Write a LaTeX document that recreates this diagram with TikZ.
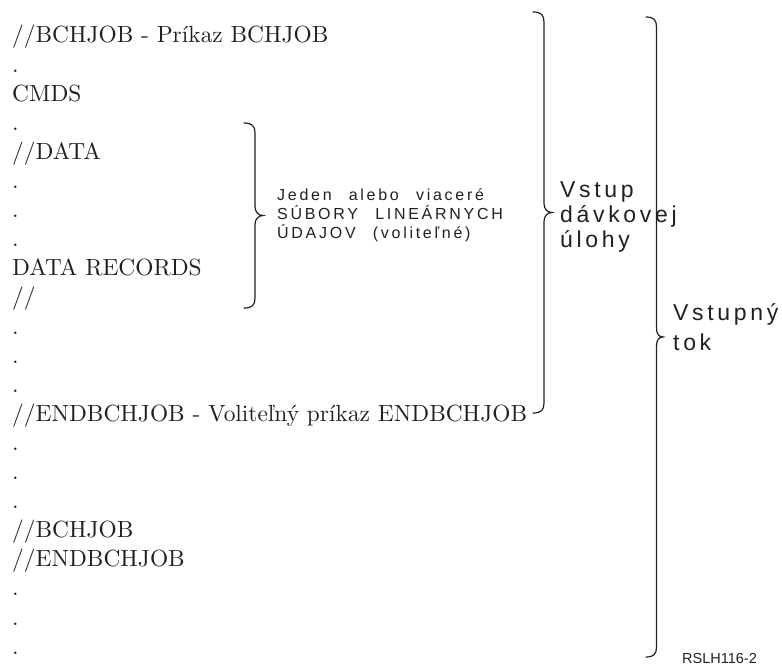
\documentclass[tikz,border=0pt]{standalone}
\usepackage{fontspec}
\newfontfamily\listfont{lmroman10-regular.otf}
\newfontfamily\notefont[LetterSpace=17,WordSpace=2.4]{Liberation Sans}
\newfontfamily\headfont[LetterSpace=16]{Liberation Sans}
\newfontfamily\tagfont{Liberation Sans}
\definecolor{ink}{RGB}{35,31,32}

% right-opening curly brace: x of the ends, top y, bottom y,
% offset of the straight part, offset of the tip
\newcommand{\drawbrace}[5]{%
  \pgfmathsetmacro\bym{(#2+#3)/2}%
  \draw[bracestroke]
    (#1,#2) .. controls ({#1+0.75*#4},#2) and ({#1+#4},{#2+3}) .. ({#1+#4},{#2+10})
    -- ({#1+#4},{\bym-9})
    .. controls ({#1+#4},{\bym-3}) and ({#1+#5-4},\bym) .. ({#1+#5},\bym)
    .. controls ({#1+#5-4},\bym) and ({#1+#4},{\bym+3}) .. ({#1+#4},{\bym+9})
    -- ({#1+#4},{#3-10})
    .. controls ({#1+#4},{#3-3}) and ({#1+0.75*#4},#3) .. (#1,#3);
}

\tikzset{
  listing/.style={anchor=base west, inner sep=0pt, text=ink,
    font=\listfont\fontsize{23.4}{29}\selectfont},
  note/.style={anchor=base west, inner sep=0pt, text=ink,
    font=\notefont\fontsize{16}{19}\selectfont},
  head/.style={anchor=base west, inner sep=0pt, text=ink,
    font=\headfont\fontsize{23}{25}\selectfont},
  tag/.style={anchor=base west, inner sep=0pt, text=ink,
    font=\tagfont\fontsize{14.5}{17}\selectfont},
  bracestroke/.style={draw=ink, line width=1.2pt, line cap=round},
}

\begin{document}
\begin{tikzpicture}[x=1pt,y=-1pt]
  \useasboundingbox (0,0) rectangle (782,668);

  % the job stream listing
  \foreach \t [count=\i] in {%
      //BCHJOB - Príkaz BCHJOB, ., CMDS, ., //DATA, ., ., ., DATA RECORDS, //,
      ., ., ., //ENDBCHJOB - Voliteľný príkaz ENDBCHJOB, ., ., .,
      //BCHJOB, //ENDBCHJOB, ., ., .}
    \node[listing] (line\i) at (12,{43+29.1*(\i-1)}) {\t};

  % braces
  \drawbrace{244}{123}{308}{11}{19}
  \drawbrace{533}{12}{413}{11}{19}
  \drawbrace{646}{17}{657}{10.5}{17}

  % inline data note
  \node[note] (data1) at (277,201) {Jeden alebo viaceré};
  \node[note] (data2) at (277,220) {SÚBORY LINEÁRNYCH};
  \node[note] (data3) at (277,239) {ÚDAJOV (voliteľné)};

  % batch job input label
  \node[head] (job1) at (560,198) {Vstup};
  \node[head] (job2) at (560,223) {dávkovej};
  \node[head] (job3) at (560,248) {úlohy};

  % input stream label
  \node[head] (stream1) at (673,321) {Vstupný};
  \node[head] (stream2) at (673,351) {tok};

  % figure tag
  \node[tag] (figtag) at (682,663) {RSLH116-2};
\end{tikzpicture}
\end{document}
